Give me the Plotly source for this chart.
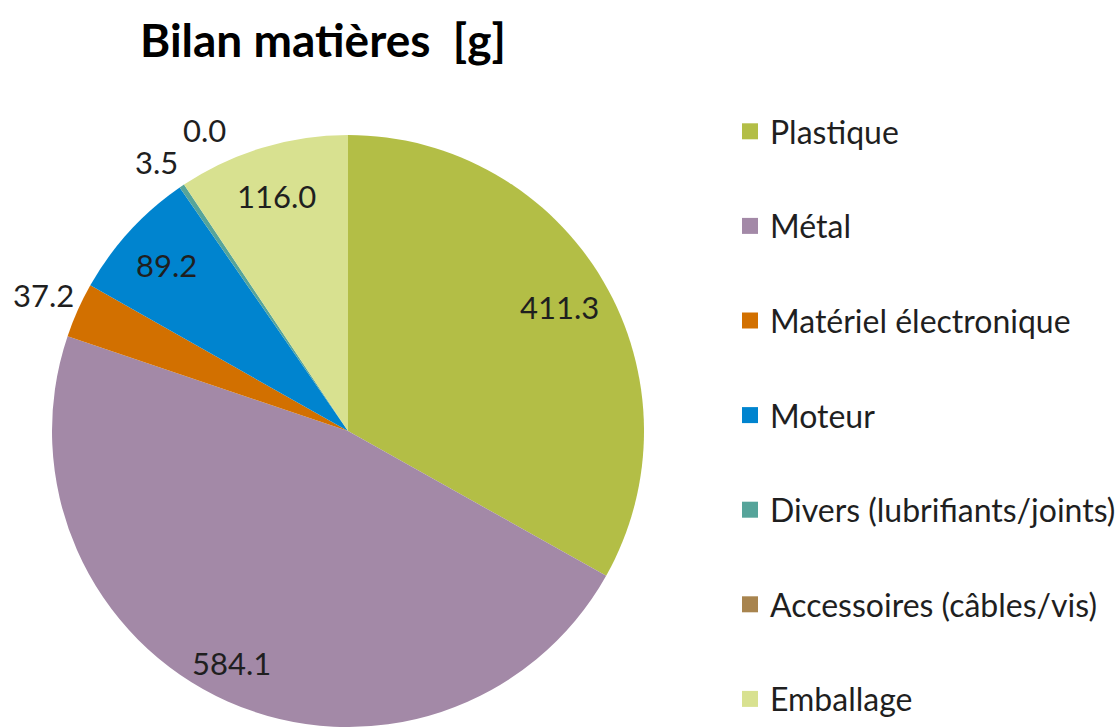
import numpy as np
import plotly.graph_objects as go

categories = ["Plastique", "Métal", "Matériel électronique", "Moteur",
              "Divers (lubrifiants/joints)", "Accessoires (câbles/vis)", "Emballage"]
values = [411.3, 584.1, 37.2, 89.2, 3.5, 0.0, 116.0]
colors = ["#B3BE46", "#A389A7", "#D27000", "#0084CF", "#56A49A", "#A8844E", "#D8E190"]

# style: radial position of each value label (fraction of radius), outside labels > 1
label_r = [0.83, 0.875, 1.125, 0.83, 1.12, 1.12, 0.83]
label_shift = [(0, 0), (-11, -5), (0, 0), (0, 0), (-5, 5), (40, -25), (0, 0)]

W, H = 1118, 727
cx, cy, R = 348, 431, 296
FONT = "Lato"
TXT = "#1F1F1F"

fig = go.Figure()
fig.add_trace(go.Pie(
    labels=categories, values=values, sort=False, direction="clockwise", rotation=0,
    marker=dict(colors=colors, line=dict(width=0)), textinfo="none", hoverinfo="label+value",
    showlegend=False,
    domain=dict(x=[(cx - R) / W, (cx + R) / W], y=[(H - (cy + R)) / H, (H - (cy - R)) / H]),
))

# legend entries
for i, (c, col) in enumerate(zip(categories, colors)):
    fig.add_trace(go.Scatter(x=[None], y=[None], mode="markers", name=c,
                             marker=dict(symbol="square", size=16, color=col),
                             legendgroup=f"g{i}", showlegend=True))

# value labels computed from data
vals = np.array(values)
tot = vals.sum()
cum = np.cumsum(vals) - vals / 2
ang = cum / tot * 2 * np.pi
annotations = []
for v, a, rf, (dx, dy) in zip(values, ang, label_r, label_shift):
    px = cx + np.sin(a) * R * rf + dx
    py = cy - np.cos(a) * R * rf + dy
    annotations.append(dict(x=px / W, y=1 - py / H, xref="paper", yref="paper",
                            xanchor="center", yanchor="middle",
                            text=f"{v:.1f}", showarrow=False,
                            font=dict(family=FONT, size=31, color=TXT)))

annotations.append(dict(x=138 / W, y=1 - 40 / H, xref="paper", yref="paper", xanchor="left",
                        yanchor="middle", text="<b>Bilan matières&nbsp; [g]</b>", showarrow=False,
                        font=dict(family=FONT, size=46, color="#000000")))

fig.update_layout(
    width=W, height=H, margin=dict(l=0, r=0, t=0, b=0, autoexpand=False),
    paper_bgcolor="white", plot_bgcolor="white",
    xaxis=dict(visible=False), yaxis=dict(visible=False),
    annotations=annotations,
    legend=dict(x=730 / W, y=1 - 104 / H, xanchor="left", yanchor="top",
                font=dict(family=FONT, size=32, color=TXT),
                traceorder="grouped", tracegroupgap=50, itemclick=False, itemdoubleclick=False),
)
fig.write_html("out.html")
